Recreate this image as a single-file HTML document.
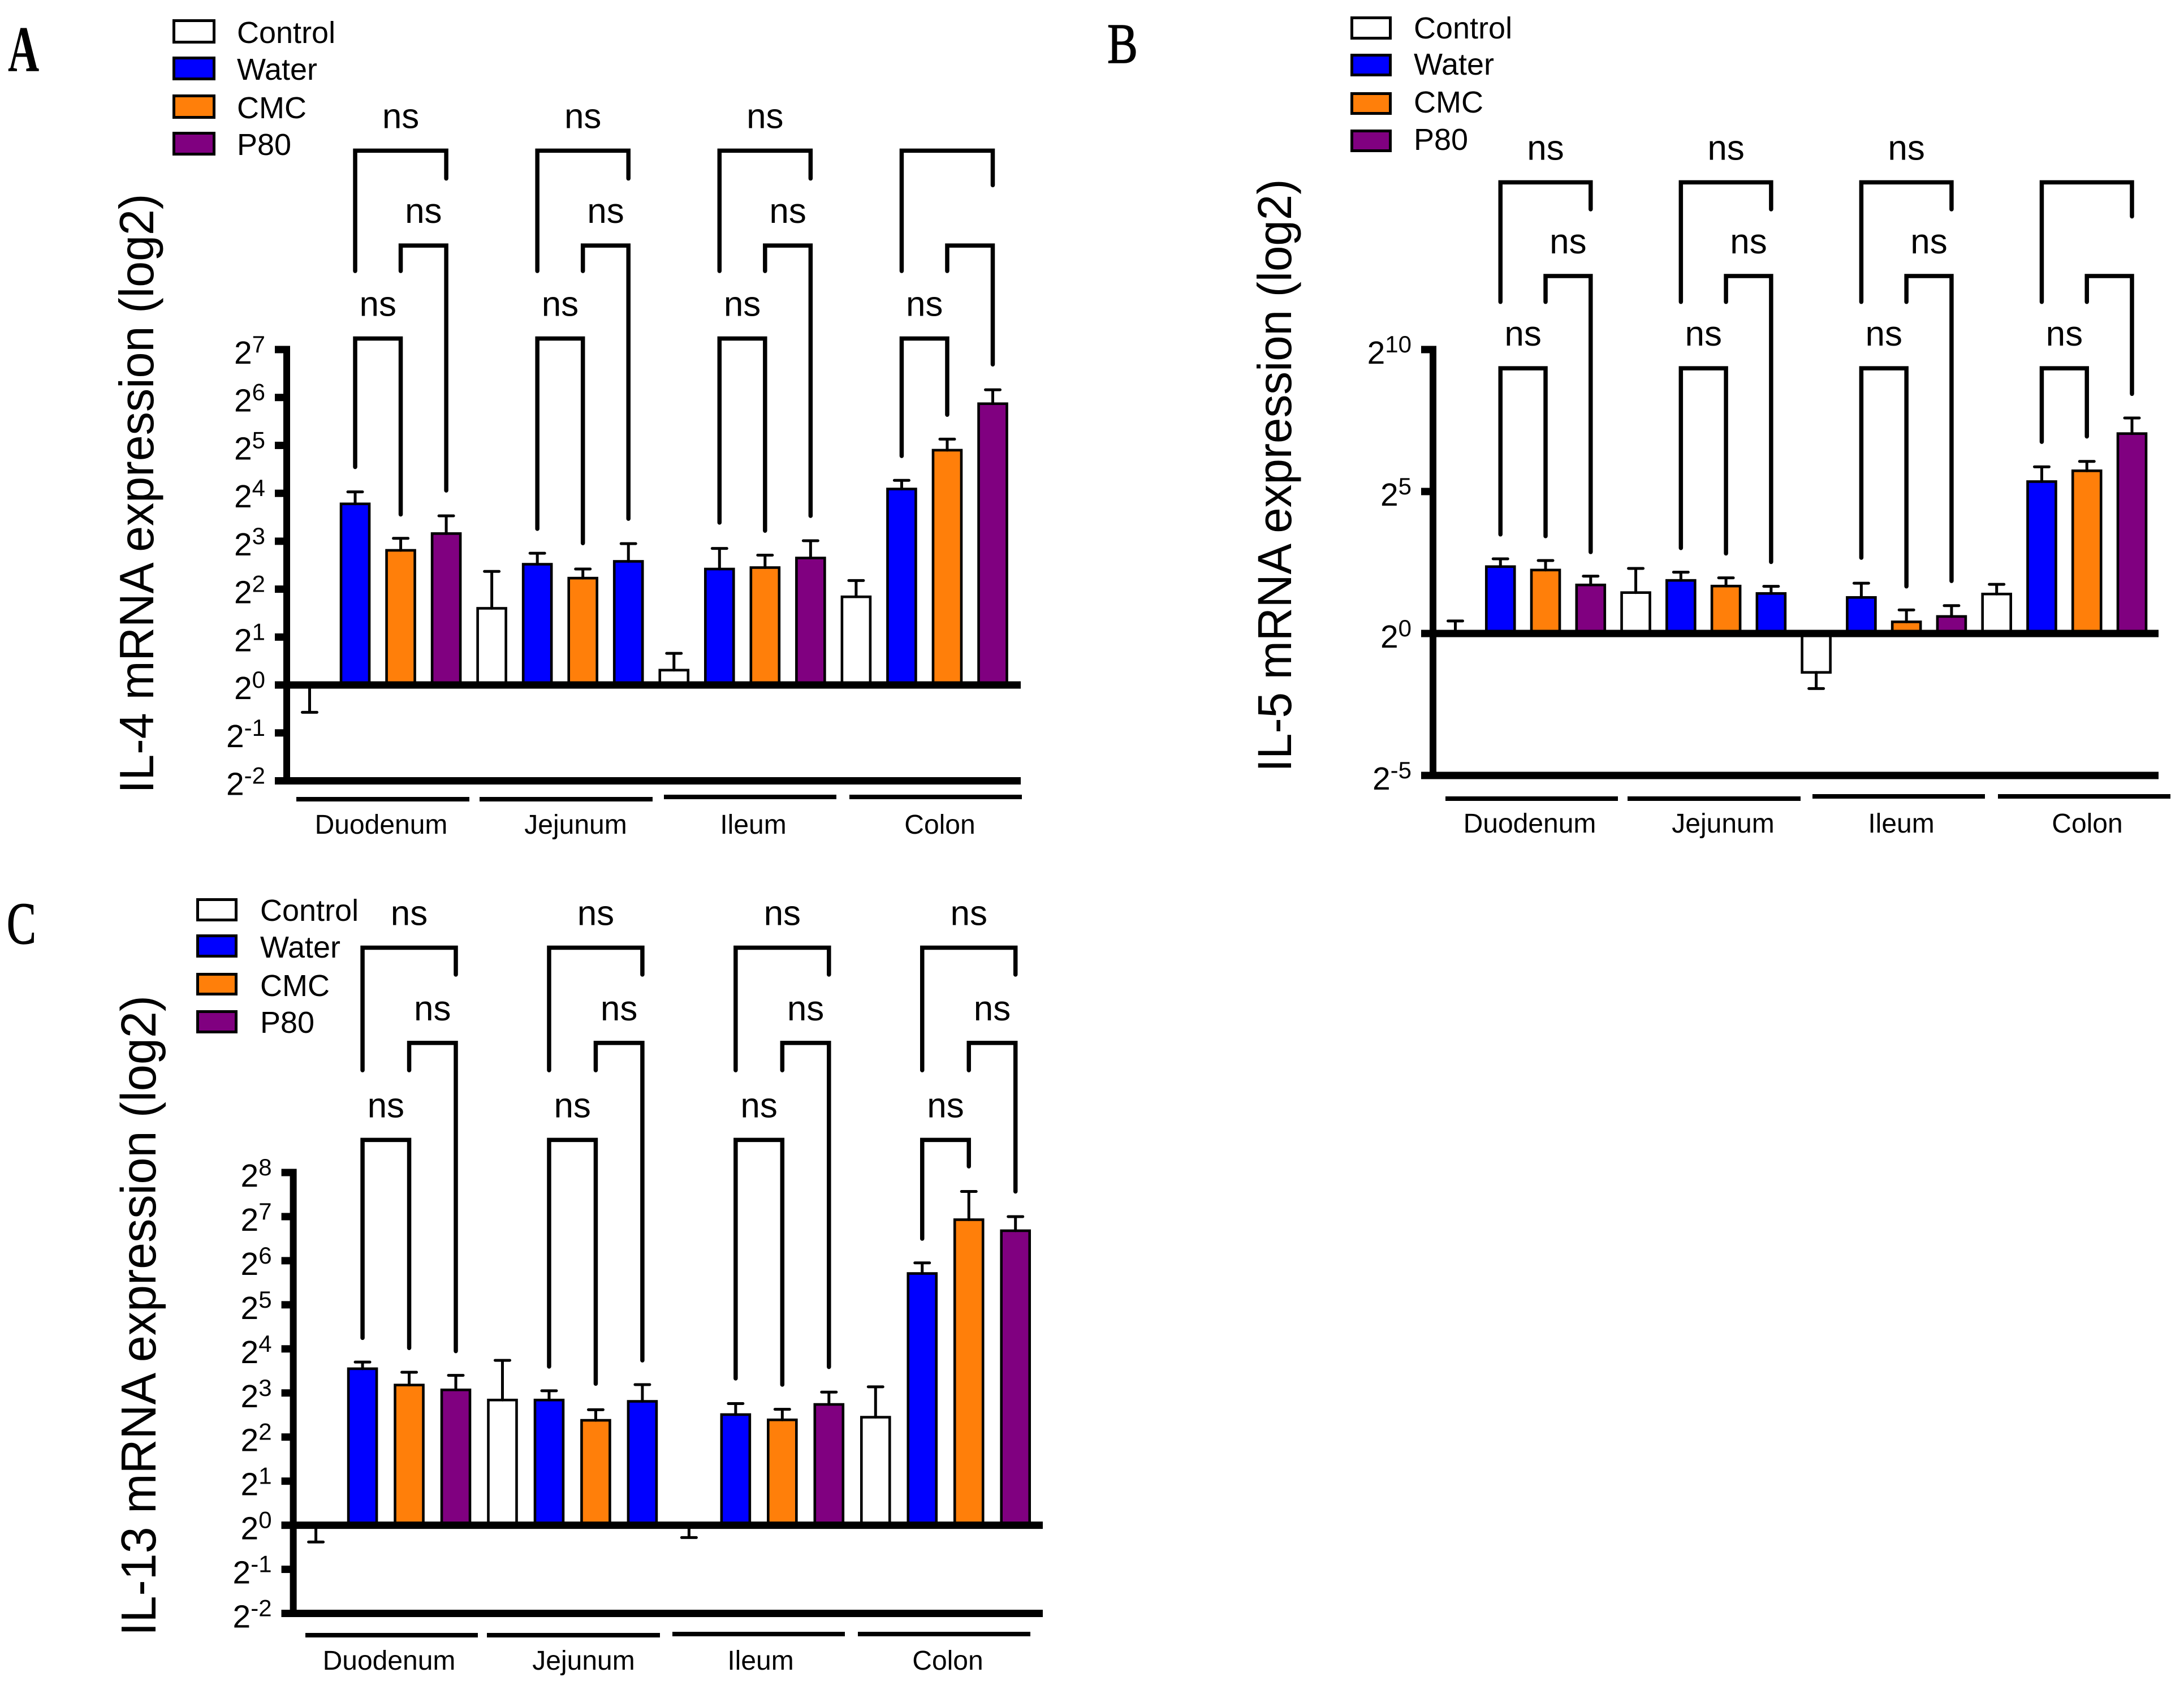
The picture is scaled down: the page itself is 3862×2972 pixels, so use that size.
<!DOCTYPE html>
<html lang="en">
<head>
<meta charset="utf-8">
<title>IL-4, IL-5 and IL-13 mRNA expression</title>
<style>
html,body{margin:0;padding:0;background:#fff;}
svg{display:block;}
text{font-family:"Liberation Sans",Arial,sans-serif;fill:#000;}
.cat{font-size:48px;text-anchor:middle;}
.leg{font-size:54px;}
.letter{font-family:"Liberation Serif",serif;}
.sw{stroke:#000;stroke-width:5;}
.catline{fill:#000;}
</style>
</head>
<body>
<svg id="figure" xmlns="http://www.w3.org/2000/svg" width="3862" height="2972" viewBox="0 0 3862 2972">
  <rect x="0" y="0" width="3862" height="2972" fill="#fff"/>

  <g id="panelA">
    <text class="letter" transform="translate(14,126) scale(0.66,1)" font-size="116" font-weight="bold">A</text>
    <text transform="translate(271,1402.6) rotate(-90)" font-size="85" textLength="1060" lengthAdjust="spacingAndGlyphs">IL-4 mRNA expression (log2)</text>
    <g>
      <rect class="sw" x="307.5" y="36.5" width="71" height="38" fill="#fff"/>
      <rect class="sw" x="307.5" y="102.5" width="71" height="37" fill="#0000ff"/>
      <rect class="sw" x="307.5" y="169.5" width="71" height="38" fill="#ff7f0a"/>
      <rect class="sw" x="307.5" y="235.5" width="71" height="37" fill="#800080"/>
      <text class="leg" x="419" y="76">Control</text>
      <text class="leg" x="419" y="141">Water</text>
      <text class="leg" x="419" y="209">CMC</text>
      <text class="leg" x="419" y="274">P80</text>
    </g>
    <rect class="catline" x="524" y="1409" width="306" height="8"/>
    <rect class="catline" x="848" y="1409" width="306" height="8"/>
    <rect class="catline" x="1174" y="1405" width="305" height="8"/>
    <rect class="catline" x="1502" y="1405" width="305" height="8"/>
    <text class="cat" x="674" y="1474">Duodenum</text>
    <text class="cat" x="1018" y="1474">Jejunum</text>
    <text class="cat" x="1332" y="1474">Ileum</text>
    <text class="cat" x="1662" y="1474">Colon</text>
  </g>

  <g id="panelB">
    <text class="letter" transform="translate(1958,111) scale(0.8,1)" font-size="101" stroke="#000" stroke-width="1.5">B</text>
    <text transform="translate(2283,1364.6) rotate(-90)" font-size="84" textLength="1048" lengthAdjust="spacingAndGlyphs">IL-5 mRNA expression (log2)</text>
    <g>
      <rect class="sw" x="2390.5" y="31.5" width="68" height="36" fill="#fff"/>
      <rect class="sw" x="2390.5" y="97.5" width="68" height="35" fill="#0000ff"/>
      <rect class="sw" x="2390.5" y="165.5" width="68" height="35" fill="#ff7f0a"/>
      <rect class="sw" x="2390.5" y="231.5" width="68" height="35" fill="#800080"/>
      <text class="leg" x="2500" y="68">Control</text>
      <text class="leg" x="2500" y="132">Water</text>
      <text class="leg" x="2500" y="199">CMC</text>
      <text class="leg" x="2500" y="265">P80</text>
    </g>
    <rect class="catline" x="2556" y="1408" width="305" height="8"/>
    <rect class="catline" x="2878" y="1408" width="306" height="8"/>
    <rect class="catline" x="3205" y="1404" width="305" height="8"/>
    <rect class="catline" x="3533" y="1404" width="305" height="8"/>
    <text class="cat" x="2705" y="1472">Duodenum</text>
    <text class="cat" x="3047" y="1472">Jejunum</text>
    <text class="cat" x="3362" y="1472">Ileum</text>
    <text class="cat" x="3691" y="1472">Colon</text>
  </g>

  <g id="panelC">
    <text class="letter" transform="translate(12,1668) scale(0.74,1)" font-size="105" stroke="#000" stroke-width="1.5">C</text>
    <text transform="translate(275,2892) rotate(-90)" font-size="87" textLength="1132" lengthAdjust="spacingAndGlyphs">IL-13 mRNA expression (log2)</text>
    <g>
      <rect class="sw" x="349.5" y="1590.5" width="68" height="36" fill="#fff"/>
      <rect class="sw" x="349.5" y="1654.5" width="68" height="36" fill="#0000ff"/>
      <rect class="sw" x="349.5" y="1722.5" width="68" height="35" fill="#ff7f0a"/>
      <rect class="sw" x="349.5" y="1788.5" width="68" height="36" fill="#800080"/>
      <text class="leg" x="460" y="1628">Control</text>
      <text class="leg" x="460" y="1693">Water</text>
      <text class="leg" x="460" y="1761">CMC</text>
      <text class="leg" x="460" y="1826">P80</text>
    </g>
    <rect class="catline" x="540" y="2887" width="305" height="8"/>
    <rect class="catline" x="861" y="2887" width="306" height="8"/>
    <rect class="catline" x="1189" y="2885" width="305" height="8"/>
    <rect class="catline" x="1517" y="2885" width="305" height="8"/>
    <text class="cat" x="688" y="2952">Duodenum</text>
    <text class="cat" x="1032" y="2952">Jejunum</text>
    <text class="cat" x="1345" y="2952">Ileum</text>
    <text class="cat" x="1676" y="2952">Colon</text>
  </g>
</svg>

<script>
/* Shared categorical data */
const groupNames = ['Duodenum', 'Jejunum', 'Ileum', 'Colon'];

/* Panel A — IL-4 (log2 units) */
const seriesA = ['Control','Water','CMC','P80', 'Control','Water','CMC','Water', 'Control','Water','CMC','P80', 'Control','Water','CMC','P80'];
const valuesA = [0, 3.78, 2.81, 3.16, 1.60, 2.52, 2.23, 2.58, 0.31, 2.42, 2.45, 2.65, 1.84, 4.09, 4.90, 5.87];
const errorsA = [-0.57, 4.03, 3.06, 3.53, 2.37, 2.75, 2.42, 2.95, 0.66, 2.85, 2.71, 3.01, 2.18, 4.27, 5.13, 6.16];
const ticksA = [7, 6, 5, 4, 3, 2, 1, 0, -1, -2];
/* comparison brackets: first bar, second bar, bracket level, drop of first leg, drop of second leg, has ns */
const bracketsA = [
  [1,3,11.15,8.64,10.57,1],[2,3,9.17,8.64,4.06,1],[1,2,7.23,4.55,3.56,1],
  [5,7,11.15,8.64,10.57,1],[6,7,9.17,8.64,3.47,1],[5,6,7.23,3.26,2.96,1],
  [9,11,11.15,8.64,10.57,1],[10,11,9.17,8.64,3.53,1],[9,10,7.23,3.39,3.22,1],
  [13,15,11.15,8.64,10.43,0],[14,15,9.17,8.64,6.69,0],[13,14,7.23,4.78,5.64,1]
];

/* Panel B — IL-5 (log2 units) */
const seriesB = ['Control','Water','CMC','P80', 'Control','Water','CMC','Water', 'Control','Water','CMC','P80', 'Control','Water','CMC','P80'];
const valuesB = [0, 2.355, 2.235, 1.71, 1.44, 1.87, 1.67, 1.41, -1.37, 1.27, 0.41, 0.60, 1.39, 5.35, 5.73, 7.04];
const errorsB = [0.44, 2.63, 2.57, 2.02, 2.29, 2.16, 1.96, 1.66, -1.94, 1.77, 0.83, 0.98, 1.73, 5.87, 6.06, 7.59];
const ticksB = [10, 5, 0, -5];
const bracketsB = [
  [1,3,15.89,11.68,14.94,1],[2,3,12.59,11.68,2.87,1],[1,2,9.34,3.49,3.43,1],
  [5,7,15.89,11.68,14.94,1],[6,7,12.59,11.68,2.52,1],[5,6,9.34,3.01,2.82,1],
  [9,11,15.89,11.68,14.94,1],[10,11,12.59,11.68,1.85,1],[9,10,9.34,2.67,1.66,1],
  [13,15,15.89,11.68,14.69,0],[14,15,12.59,11.68,8.44,0],[13,14,9.34,6.75,6.94,1]
];

/* Panel C — IL-13 (log2 units) */
const seriesC = ['Control','Water','CMC','P80', 'Control','Water','CMC','Water', 'Control','Water','CMC','P80', 'Control','Water','CMC','P80'];
const valuesC = [0, 3.55, 3.18, 3.07, 2.84, 2.84, 2.38, 2.81, 0, 2.51, 2.39, 2.74, 2.45, 5.71, 6.93, 6.68];
const errorsC = [-0.38, 3.70, 3.47, 3.40, 3.74, 3.05, 2.62, 3.19, -0.28, 2.76, 2.63, 3.02, 3.14, 5.95, 7.57, 7.00];
const ticksC = [8, 7, 6, 5, 4, 3, 2, 1, 0, -1, -2];
const bracketsC = [
  [1,3,13.10,10.32,12.49,1],[2,3,10.94,10.32,3.95,1],[1,2,8.74,4.25,4.02,1],
  [5,7,13.10,10.32,12.49,1],[6,7,10.94,10.32,3.74,1],[5,6,8.74,3.60,3.21,1],
  [9,11,13.10,10.32,12.49,1],[10,11,10.94,10.32,3.59,1],[9,10,8.74,3.33,3.19,1],
  [13,15,13.10,10.32,12.49,1],[14,15,10.94,10.32,7.57,1],[13,14,8.74,6.50,8.14,1]
];

const seriesFill = { Control: '#ffffff', Water: '#0000ff', CMC: '#ff7f0a', P80: '#800080' };
const SVGNS = 'http://www.w3.org/2000/svg';

function mk(tag, attrs, parent) {
  const el = document.createElementNS(SVGNS, tag);
  for (const k in attrs) el.setAttribute(k, attrs[k]);
  parent.appendChild(el);
  return el;
}

function drawPanel(p) {
  const root = document.getElementById(p.id);
  const domainMax = p.ticks[0];
  const domainMin = p.ticks[p.ticks.length - 1];
  const yScale = v => p.yBottom + (v - domainMin) * (p.yTop - p.yBottom) / (domainMax - domainMin);
  const xScale = i => p.x0 + i * (p.xLast - p.x0) / (p.values.length - 1);
  const zero = yScale(0);
  const BAR_W = 50;
  const BAR_STROKE = 4.6;

  const plot = mk('g', {}, root);
  
  

  /* bars */
  p.values.forEach((v, i) => {
    const top = yScale(v);
    const group = groupNames[Math.floor(i / 4)].toLowerCase();
    const bar = mk('rect', {
      x: xScale(i) - BAR_W / 2,
      y: Math.min(top, zero),
      width: BAR_W,
      height: Math.abs(zero - top),
      fill: seriesFill[p.series[i]],
      stroke: '#000',
      'stroke-width': BAR_STROKE
    }, plot);
    
    
  });

  /* error bars */
  p.errors.forEach((e, i) => {
    const x = xScale(i);
    const group = groupNames[Math.floor(i / 4)].toLowerCase();
    const err = mk('path', {
      d: 'M' + x + ' ' + yScale(p.values[i]) + 'V' + yScale(e) + 'M' + (x - 13) + ' ' + yScale(e) + 'H' + (x + 13),
      fill: 'none',
      stroke: '#000',
      'stroke-width': 5,
      'stroke-linecap': 'round'
    }, plot);
    
    
  });

  /* y axis and baselines */
  const axis = mk('g', { fill: '#000' }, root);
  
  
  const spine = mk('rect', {
    x: p.axisX - 6,
    y: yScale(domainMax) - 6.5,
    width: 12,
    height: yScale(domainMin) - yScale(domainMax) + 13
  }, axis);
  
  
  const zeroLine = mk('rect', { x: p.axisX - 21, y: zero - 6.5, width: p.axisRight - p.axisX + 21, height: 13 }, axis);
  
  
  const bottomLine = mk('rect', { x: p.axisX - 21, y: yScale(domainMin) - 6.5, width: p.axisRight - p.axisX + 21, height: 13 }, axis);
  
  

  p.ticks.forEach(t => {
    const y = yScale(t);
    const tick = mk('rect', { x: p.axisX - 21, y: y - 6.5, width: 21, height: 13 }, axis);
    
    
    const label = mk('text', {
      x: p.axisX - 38,
      y: y + 25,
      'text-anchor': 'end',
      'font-size': 57
    }, axis);
    
    
    label.appendChild(document.createTextNode('2'));
    const sup = mk('tspan', { dy: -20, 'font-size': 42 }, label);
    sup.textContent = String(t);
  });

  /* significance brackets */
  const ann = mk('g', {}, root);
  
  
  p.brackets.forEach(b => {
    const xa = xScale(b[0]), xb = xScale(b[1]);
    const ly = yScale(b[2]);
    const br = mk('path', {
      d: 'M' + xa + ' ' + yScale(b[3]) + 'V' + ly + 'H' + xb + 'V' + yScale(b[4]),
      fill: 'none',
      stroke: '#000',
      'stroke-width': 7.5,
      'stroke-linejoin': 'miter',
      'stroke-linecap': 'round'
    }, ann);
    
    
    if (b[5]) {
      const ns = mk('text', {
        x: (xa + xb) / 2,
        y: ly - 40,
        'text-anchor': 'middle',
        'font-size': 62
      }, ann);
      
      
      ns.textContent = 'ns';
    }
  });
}

drawPanel({ id: 'panelA', series: seriesA, values: valuesA, errors: errorsA, ticks: ticksA, brackets: bracketsA,
  x0: 547.5, xLast: 1755.5, yTop: 618, yBottom: 1380.5, axisX: 507, axisRight: 1805 });
drawPanel({ id: 'panelB', series: seriesB, values: valuesB, errors: errorsB, ticks: ticksB, brackets: bracketsB,
  x0: 2573.5, xLast: 3770, yTop: 618, yBottom: 1371, axisX: 2534, axisRight: 3817 });
drawPanel({ id: 'panelC', series: seriesC, values: valuesC, errors: errorsC, ticks: ticksC, brackets: bracketsC,
  x0: 558.6, xLast: 1795.7, yTop: 2073, yBottom: 2852.5, axisX: 518.6, axisRight: 1844 });
</script>
</body>
</html>
